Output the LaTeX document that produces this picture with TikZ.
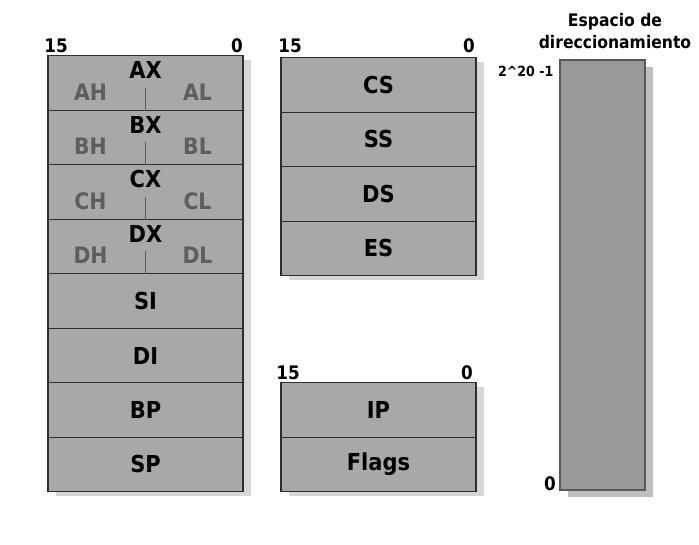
\documentclass[tikz,border=0pt]{standalone}
\usepackage{fontspec}
\setmainfont{DejaVu Sans Condensed}
\usetikzlibrary{shadows}
\definecolor{regfill}{HTML}{A8A8A8}
\definecolor{regline}{HTML}{2E2E2E}
\definecolor{halfink}{HTML}{5E5E5E}
\definecolor{memfill}{HTML}{999999}

\newlength{\pxunit}
\setlength{\pxunit}{0.75pt}
\tikzset{
  reg/.style={draw=regline, line width=1.1pt, fill=regfill,
    minimum width=195\pxunit, minimum height=54.5\pxunit, inner sep=0pt,
    drop shadow={shadow xshift=6pt, shadow yshift=-3pt, opacity=0.16, fill=black},
    font=\fontsize{17.5}{17.5}\bfseries},
  half/.style={text=halfink, font=\fontsize{17}{17}\bfseries},
  bits/.style={font=\fontsize{14}{14}\bfseries}
}

\begin{document}
\begin{tikzpicture}[x=0.75pt, y=-0.75pt]
  \useasboundingbox (0,0) rectangle (699,545);

  % general purpose registers
  \node[reg] (ax) at (145.5,83) {};
  \node[reg] (bx) at (145.5,137.5) {};
  \node[reg] (cx) at (145.5,192) {};
  \node[reg] (dx) at (145.5,246.5) {};
  \node[reg] (si) at (145.5,301) {SI};
  \node[reg] (di) at (145.5,355.5) {DI};
  \node[reg] (bp) at (145.5,410) {BP};
  \node[reg] (sp) at (145.5,464.5) {SP};

  \foreach \r/\w/\h/\l in {ax/AX/AH/AL, bx/BX/BH/BL, cx/CX/CH/CL, dx/DX/DH/DL} {
    \node[font=\fontsize{17.5}{17.5}\bfseries] (\r name) at ([yshift=-15\pxunit]\r.north) {\w};
    \node[half] (\r hi) at ([xshift=-55\pxunit, yshift=-9\pxunit]\r.center) {\h};
    \node[half] (\r lo) at ([xshift=52\pxunit, yshift=-9\pxunit]\r.center) {\l};
    \draw[halfink, line width=1pt] (\r.south) -- ([yshift=23\pxunit]\r.south);
  }
  \node[bits] (gp15) at (56,46) {15};
  \node[bits] (gp0) at (237,46) {0};

  % segment registers
  \node[reg] (cs) at (378.5,85) {CS};
  \node[reg] (ss) at (378.5,139.5) {SS};
  \node[reg] (ds) at (378.5,194) {DS};
  \node[reg] (es) at (378.5,248.5) {ES};
  \node[bits] (sg15) at (290,46) {15};
  \node[bits] (sg0) at (469,46) {0};

  % ip and flags
  \node[reg] (ip) at (378.5,410) {IP};
  \node[reg] (fl) at (378.5,464.5) {Flags};
  \node[bits] (ip15) at (288,373) {15};
  \node[bits] (ip0) at (467,373) {0};

  % address space
  \node[draw=regline!80, line width=1.6pt, fill=memfill, inner sep=0pt,
    minimum width=85\pxunit, minimum height=430\pxunit,
    drop shadow={shadow xshift=6pt, shadow yshift=-5pt, opacity=0.25, fill=black}]
    (mem) at (602.5,275) {};
  \node[font=\fontsize{13}{16}\bfseries, align=center] (memname) at (615,31)
    {Espacio de\\direccionamiento};
  \node[font=\fontsize{10.5}{10.5}\bfseries, anchor=east] (top) at (558,71) {2\^{}20 -1};
  \node[bits] (bottom) at (550,484) {0};

\end{tikzpicture}
\end{document}
